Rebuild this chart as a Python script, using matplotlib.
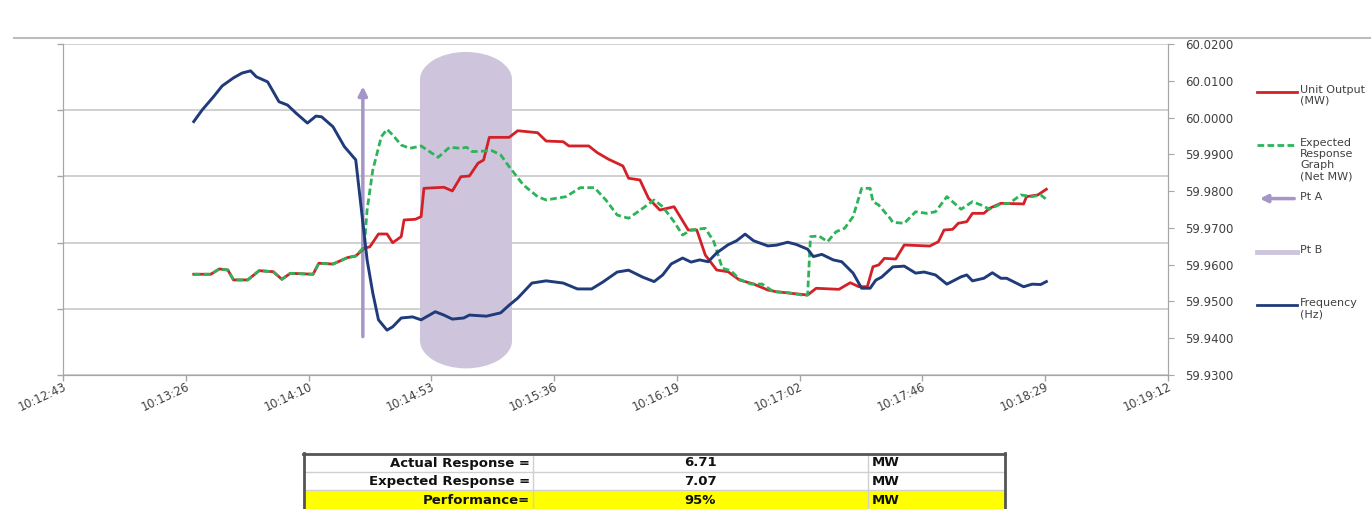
import matplotlib
matplotlib.use('Agg')
import matplotlib.pyplot as plt
from matplotlib.patches import Ellipse, Rectangle, FancyArrowPatch
from matplotlib.lines import Line2D

# time axis: seconds after 10:12:43, major unit 43.2 s (0.0005 day)
tick_labels = ['10:12:43', '10:13:26', '10:14:10', '10:14:53', '10:15:36',
               '10:16:19', '10:17:02', '10:17:46', '10:18:29', '10:19:12']
tick_step = 43.2

# Frequency (Hz) - right axis
freq_t = [46, 49, 53, 56, 60, 63, 66, 68, 72, 76, 79, 82, 86, 89, 91, 95, 99, 103, 105, 107,
          109, 111, 114, 116, 119, 123, 126, 131, 134, 137, 141, 143, 149, 154, 157, 160, 165, 170, 176, 181,
          186, 190, 195, 199, 204, 208, 211, 214, 218, 221, 224, 227, 230, 234, 237, 240, 243, 248, 251, 255,
          258, 262, 264, 267, 271, 274, 278, 281, 284, 286, 288, 292, 296, 300, 303, 307, 311, 316, 318, 320,
          324, 327, 330, 332, 338, 341, 344, 346]
freq_hz = [59.9989, 60.0021, 60.0057, 60.0086, 60.0108, 60.0121, 60.0127, 60.0111, 60.0097, 60.0043,
           60.0034, 60.0012, 59.9985, 60.0004, 60.0002, 59.9975, 59.9921, 59.9885, 59.9749, 59.9613,
           59.9523, 59.9450, 59.9422, 59.9431, 59.9455, 59.9458, 59.9450, 59.9472, 59.9463, 59.9452,
           59.9455, 59.9463, 59.9460, 59.9469, 59.9490, 59.9509, 59.9550, 59.9556, 59.9550, 59.9534,
           59.9534, 59.9553, 59.9580, 59.9585, 59.9566, 59.9554, 59.9572, 59.9602, 59.9618, 59.9607,
           59.9613, 59.9608, 59.9632, 59.9654, 59.9665, 59.9683, 59.9665, 59.9651, 59.9653, 59.9661,
           59.9655, 59.9642, 59.9622, 59.9628, 59.9613, 59.9608, 59.9577, 59.9536, 59.9536, 59.9558,
           59.9566, 59.9594, 59.9596, 59.9577, 59.9580, 59.9572, 59.9547, 59.9567, 59.9572, 59.9556,
           59.9563, 59.9578, 59.9563, 59.9563, 59.9540, 59.9547, 59.9546, 59.9554]

# Unit Output (MW) - left axis
unit_t = [46, 52, 55, 58, 60, 65, 69, 74, 77, 80, 88, 90, 95, 100, 103, 106, 108, 111, 114, 116,
          119, 120, 124, 126, 127, 134, 137, 140, 143, 146, 148, 150, 157, 160, 167, 170, 176, 178, 185, 188,
          192, 197, 199, 203, 206, 210, 215, 220, 223, 226, 230, 234, 238, 243, 248, 251, 262, 265, 273, 277,
          280, 283, 285, 287, 289, 293, 296, 305, 308, 310, 313, 315, 318, 320, 324, 326, 330, 338, 339, 343,
          346]
unit_mw = [7.61, 7.61, 8.01, 7.93, 7.18, 7.18, 7.88, 7.80, 7.23, 7.68, 7.61, 8.44, 8.38, 8.86, 8.99, 9.57,
           9.69, 10.65, 10.65, 9.99, 10.45, 11.71, 11.76, 11.96, 14.10, 14.18, 13.90, 14.98, 15.03, 15.99,
           16.24, 17.95, 17.95, 18.45, 18.30, 17.67, 17.62, 17.30, 17.30, 16.79, 16.29, 15.79, 14.86, 14.73,
           13.35, 12.46, 12.71, 10.95, 10.95, 9.06, 7.93, 7.80, 7.18, 6.87, 6.42, 6.29, 6.04, 6.55, 6.47,
           6.97, 6.67, 6.67, 8.18, 8.31, 8.81, 8.76, 9.82, 9.74, 10.07, 10.95, 11.00, 11.46, 11.58, 12.21,
           12.21, 12.59, 12.97, 12.92, 13.47, 13.60, 14.03]

# Expected Response Graph (Net MW) - left axis
exp_t = [46, 52, 55, 58, 60, 65, 69, 74, 77, 80, 88, 90, 95, 100, 103, 106, 107, 109, 112, 114,
         116, 119, 122, 126, 132, 136, 140, 142, 144, 151, 154, 157, 162, 167, 170, 177, 182, 187, 191, 195,
         199, 204, 208, 211, 215, 218, 221, 226, 229, 232, 235, 238, 242, 246, 250, 255, 260, 262, 263, 266,
         269, 272, 275, 278, 281, 284, 285, 287, 291, 292, 296, 300, 304, 307, 311, 316, 320, 323, 326, 330,
         333, 337, 341, 344, 346]
exp_mw = [7.61, 7.61, 8.01, 7.93, 7.18, 7.18, 7.88, 7.80, 7.23, 7.68, 7.61, 8.44, 8.38, 8.86, 8.99, 9.69,
          12.46, 15.48, 18.00, 18.56, 18.13, 17.37, 17.12, 17.30, 16.44, 17.20, 17.12, 17.20, 16.87, 16.94,
          16.62, 15.73, 14.35, 13.47, 13.22, 13.47, 14.15, 14.15, 13.22, 12.08, 11.84, 12.59, 13.22, 12.71,
          11.58, 10.57, 10.95, 11.08, 10.07, 8.06, 7.88, 7.23, 6.87, 6.87, 6.29, 6.22, 6.04, 6.04, 10.45,
          10.50, 10.07, 10.82, 11.08, 11.96, 14.10, 14.10, 13.09, 12.84, 11.84, 11.53, 11.46, 12.33, 12.21,
          12.33, 13.47, 12.52, 13.09, 12.84, 12.52, 12.92, 12.97, 13.60, 13.47, 13.60, 13.27]

# markers
pt_a_t = [105.5, 105.5]
pt_a_mw = [2.9, 21.8]
pt_b_t = [125.6, 158.0]
pt_b_mw = [0.5, 24.4]

legend_labels = ['Unit Output\n(MW)', 'Expected\nResponse\nGraph\n(Net MW)', 'Pt A', 'Pt B', 'Frequency\n(Hz)']

table_labels = ['Actual Response =', 'Expected Response =', 'Performance=']
table_values = ['6.71', '7.07', '95%']
table_units = ['MW', 'MW', 'MW']

RED = '#d42027'
GREEN = '#2db45a'
BLUE = '#1f3b7a'
PTA = '#a696c8'
PTB = '#cec5dd'
GRID = '#c8c8c8'
AXC = '#a6a6a6'
TXT = '#404040'

W, H = 1371, 509
fig = plt.figure(figsize=(W / 100, H / 100), dpi=100)


def fx(x):
    return x / W


def fy(y):
    return 1 - y / H


def px_box(x0, y0, x1, y1):
    return [x0 / W, 1 - y1 / H, (x1 - x0) / W, (y1 - y0) / H]


ax = fig.add_axes(px_box(63, 44, 1168, 375))
ax.set_xlim(0, tick_step * (len(tick_labels) - 1))
ax.set_ylim(0, 25)
ax.set_yticks([0, 5, 10, 15, 20, 25])
ax.set_yticklabels([])
ax.grid(axis='y', color=GRID, lw=1.2)
ax.set_axisbelow(True)
ax.set_xticks([i * tick_step for i in range(len(tick_labels))])
ax.set_xticklabels(tick_labels, rotation=25, ha='right', rotation_mode='anchor',
                   fontsize=8.3, color=TXT)
ax.tick_params(axis='both', length=4, color=AXC, width=1)
ax.tick_params(axis='x', pad=0)
ax.spines['top'].set_visible(False)
for s in ['left', 'bottom', 'right']:
    ax.spines[s].set_color(AXC)

# Pt B band: rectangle with elliptical caps
cap = 2.1
bw = pt_b_t[1] - pt_b_t[0]
bx = (pt_b_t[0] + pt_b_t[1]) / 2
ax.add_patch(Rectangle((pt_b_t[0], pt_b_mw[0] + cap), bw, pt_b_mw[1] - pt_b_mw[0] - 2 * cap,
                       fc=PTB, ec='none', zorder=1))
for yc in [pt_b_mw[0] + cap, pt_b_mw[1] - cap]:
    ax.add_patch(Ellipse((bx, yc), bw, 2 * cap, fc=PTB, ec='none', zorder=1))

# Pt A arrow
ax.annotate('', xy=(pt_a_t[1], pt_a_mw[1]), xytext=(pt_a_t[0], pt_a_mw[0]),
            arrowprops=dict(arrowstyle='-|>', color=PTA, lw=2.5, mutation_scale=13,
                            shrinkA=0, shrinkB=0), zorder=2)

ax.plot(unit_t, unit_mw, color=RED, lw=2, zorder=3)
ax.plot(exp_t, exp_mw, color=GREEN, lw=2, ls=(0, (2.4, 1.2)), zorder=4)

ax2 = ax.twinx()
ax2.set_ylim(59.93, 60.02)
ax2.set_yticks([59.93 + 0.01 * i for i in range(10)])
ax2.yaxis.set_major_formatter(matplotlib.ticker.FormatStrFormatter('%.4f'))
ax2.tick_params(axis='y', length=4, color=AXC, labelsize=8.5, labelcolor=TXT, pad=8)
ax2.spines['top'].set_visible(False)
for s in ['left', 'bottom', 'right']:
    ax2.spines[s].set_color(AXC)
ax2.plot(freq_t, freq_hz, color=BLUE, lw=2.1, zorder=5)

# decorative header rule
fig.add_artist(Line2D([fx(14), 1], [fy(38), fy(38)], color='#bdbdbd', lw=1.5))

# legend (drawn by hand, outside the plot)
leg_y = [92 + 53.3 * i for i in range(len(legend_labels))]
styles = [dict(color=RED, lw=2), dict(color=GREEN, lw=2, ls=(0, (2.4, 1.2))), None,
          dict(color=PTB, lw=3.5), dict(color=BLUE, lw=2)]
for y, lab, st in zip(leg_y, legend_labels, styles):
    if st is None:
        fig.add_artist(FancyArrowPatch(
            (fx(1297), fy(y)), (fx(1257), fy(y)), transform=fig.transFigure,
            arrowstyle='-|>', mutation_scale=11, color=PTA, lw=2.5))
    else:
        fig.add_artist(Line2D([fx(1257), fx(1297)], [fy(y), fy(y)], **st))
    fig.text(fx(1300), fy(y - 7), lab, va='top', ha='left', fontsize=8,
             color=TXT, linespacing=1.12)

# results table under the chart
tab = fig.add_axes(px_box(303, 453, 1005, 509))
tab.set_xlim(0, 702)
tab.set_ylim(56, 0)
tab.axis('off')
row_edges = [0, 19, 37, 56]
tab.add_patch(Rectangle((0, row_edges[2]), 702, row_edges[3] - row_edges[2],
                        fc='#ffff00', ec='none'))
for y in row_edges[1:3]:
    tab.plot([0, 702], [y, y], color='#d0d0d0', lw=1)
for x in [230, 565]:
    tab.plot([x, x], [0, 56], color='#d0d0d0', lw=1)
tab.plot([0, 702], [0.5, 0.5], color='#555555', lw=2, clip_on=False)
tab.plot([0.5, 0.5], [0, 56], color='#555555', lw=2, clip_on=False)
tab.plot([701.5, 701.5], [0, 56], color='#555555', lw=2, clip_on=False)
for i in range(len(table_labels)):
    yc = (row_edges[i] + row_edges[i + 1]) / 2 + 0.5
    kw = dict(va='center', fontsize=9.5, fontweight='bold', color='#111111')
    tab.text(227, yc, table_labels[i], ha='right', **kw)
    tab.text(397, yc, table_values[i], ha='center', **kw)
    tab.text(569, yc, table_units[i], ha='left', **kw)

fig.savefig('out.png', dpi=100)
